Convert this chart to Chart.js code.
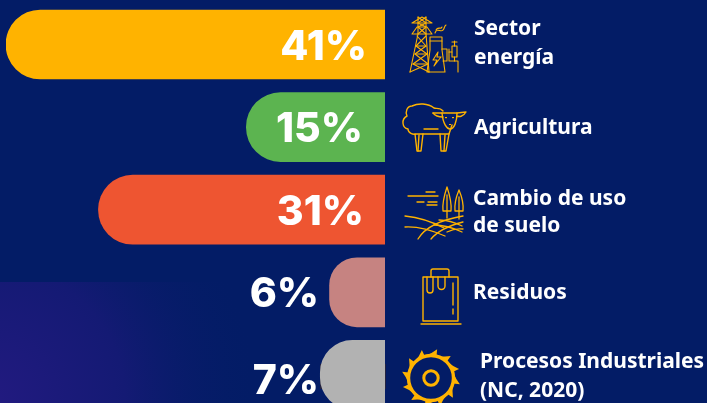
<!DOCTYPE html>
<html lang="es"><head><meta charset="utf-8">
<script src="https://cdn.jsdelivr.net/npm/chart.js@4"></script>
<style>html,body{margin:0;padding:0;background:#031c66;overflow:hidden}
#w{position:relative;width:707px;height:403px;overflow:hidden}
canvas{position:absolute;left:0;top:0}</style></head>
<body><div id="w"><canvas id="c" width="707" height="440"></canvas></div>
<script>
const categories = [["Sector","energía"],["Agricultura"],["Cambio de uso","de suelo"],["Residuos"],["Procesos Industriales","(NC, 2020)"]];
const values = [41,15,31,6,7];
const barColors = ["#FFB300","#5CB450","#EE5531","#C68381","#B2B2B2"];
const GOLD = "#FFB300";
const labelFont = '700 21px "Noto Sans"';
const pctFont = '800 41px Inter';
const labelX = [474,474,473,473,480];
const labelBase = [[35,64],[134],[205,232],[299],[368,397]];
const pctRight = [367,363,364,319,319];
const pctBase = [60,142,225,307,394];

function line(c,pts,close){c.beginPath();pts.forEach((p,i)=>i?c.lineTo(p[0],p[1]):c.moveTo(p[0],p[1]));if(close)c.closePath();c.stroke();}

function iconEnergy(c){
  c.lineWidth=1.1;
  line(c,[[412,23],[422,17],[432,23],[412,23]]);
  line(c,[[412,34],[417,27],[427,27],[432,34],[412,34]]);
  line(c,[[418,17],[418,34],[410,72]]);line(c,[[426,17],[426,34],[429,72]]);
  line(c,[[418,17],[426,23],[418,27],[426,34]]);line(c,[[426,17],[418,23],[426,27],[418,34]]);
  line(c,[[417,36],[426,46],[415,54],[428,64],[410,72]]);
  line(c,[[426,36],[416,46],[427,54],[413,64],[429,72]]);
  line(c,[[416,46],[426,46]]);line(c,[[415,54],[427,54]]);line(c,[[413,64],[428,64]]);
  line(c,[[430,37],[442,37],[442,50],[445,72],[427,72],[430,50],[430,37]]);
  line(c,[[430,41],[442,41]]);
  line(c,[[438,52],[433,60],[437,60],[434,66],[441,57],[437,57],[438,52]]);
  line(c,[[442,49],[447,49],[447,61],[443,61]]);line(c,[[449,49],[449,61],[458,61],[458,72]]);
  line(c,[[449,52],[452,52]]);
  c.strokeRect(452,46,5,11);line(c,[[454.5,41],[454.5,46]]);line(c,[[452,42],[457,42]]);line(c,[[454.5,57],[454.5,61]]);
  c.beginPath();c.moveTo(435,33);c.bezierCurveTo(437,27,441,33,443,30);c.bezierCurveTo(445,28,444,26,446,25);c.stroke();
  c.beginPath();c.moveTo(436,30);c.bezierCurveTo(438,26,441,30,442,27);c.stroke();
}
function iconSheep(c){
  c.lineWidth=1.4;
  c.beginPath();c.moveTo(443,111);c.bezierCurveTo(440,107,436,109,434,108);c.bezierCurveTo(428,103,418,103,412,106);
  c.bezierCurveTo(407,106,405,112,407,116);c.bezierCurveTo(401,119,402,128,408,129);c.bezierCurveTo(408,133,413,135,416,134);
  c.lineTo(449,134);c.lineTo(452,125);c.stroke();
  c.beginPath();c.moveTo(433,113);c.lineTo(442,113);c.bezierCurveTo(443,124,447,129,450,129);c.bezierCurveTo(454,129,457,122,457,113);c.lineTo(466,112);c.bezierCurveTo(463,117,459,117,457,116);c.stroke();
  c.beginPath();c.moveTo(433,113);c.bezierCurveTo(436,117,440,117,443,117);c.stroke();
  line(c,[[442,113],[457,113]]);
  line(c,[[424,129],[438,129]]);
  line(c,[[415,134],[417,151],[421,151],[423,134]]);line(c,[[418,151],[419,135]]);
  line(c,[[440,134],[441,151],[446,151],[449,134]]);line(c,[[444,151],[445,135]]);
  c.fillStyle=GOLD;c.fillRect(445,117,2,1.2);c.fillRect(452,117,2,1.2);c.fillRect(449,124,2,1);
}
function iconLand(c){
  c.lineWidth=1.3;
  line(c,[[408,196],[438,196]]);line(c,[[426,192],[435,192]]);line(c,[[417,202],[424,202]]);line(c,[[428,202],[437,202]]);line(c,[[427,205],[437,205]]);
  c.beginPath();c.moveTo(447,187);c.quadraticCurveTo(442,202,443,211);c.lineTo(451,211);c.quadraticCurveTo(452,202,447,187);c.moveTo(447,195);c.lineTo(447,218);c.stroke();
  c.beginPath();c.moveTo(459,190);c.quadraticCurveTo(454,202,455,211);c.lineTo(463,211);c.quadraticCurveTo(464,202,459,190);c.moveTo(459,197);c.lineTo(459,219);c.stroke();
  [[[405,216],[425,218],[444,228]],[[405,227],[422,226],[445,236]]].forEach(a=>{c.beginPath();c.moveTo(a[0][0],a[0][1]);c.quadraticCurveTo(a[1][0],a[1][1],a[2][0],a[2][1]);c.stroke();});
  [[[418,239],[428,222],[463,216]],[[431,239],[440,228],[463,222]],[[439,220],[450,220],[462,226]],[[434,225],[447,225],[462,232]],[[447,232],[455,228],[463,229]]].forEach(a=>{c.beginPath();c.moveTo(a[0][0],a[0][1]);c.quadraticCurveTo(a[1][0],a[1][1],a[2][0],a[2][1]);c.stroke();});
}
function iconBag(c){
  c.lineWidth=1.4;
  c.strokeRect(423,277,35,44);
  line(c,[[421,324],[461,324]]);
  c.beginPath();c.moveTo(431,277);c.lineTo(431,271);c.quadraticCurveTo(431,269,433,269);c.lineTo(447,269);c.quadraticCurveTo(449,269,449,271);c.lineTo(449,277);c.stroke();
  c.beginPath();c.moveTo(427,277);c.lineTo(427,290);c.arc(430,290,3,Math.PI,0,true);c.lineTo(433,277);c.stroke();
  c.beginPath();c.moveTo(438,277);c.lineTo(438,286);c.arc(441.5,286,3.5,Math.PI,0,true);c.lineTo(445,277);c.stroke();
  line(c,[[453,283],[453,305]]);line(c,[[453,309],[453,314]]);
}
function iconSaw(c){
  const cx=431,cy=378,d=Math.PI/180;
  c.lineWidth=3;c.beginPath();c.arc(cx,cy,7.2,0,7);c.stroke();
  c.lineWidth=3.4;c.beginPath();c.arc(cx,cy,22.5,0,7);c.stroke();
  c.fillStyle=GOLD;
  const P=(r,a)=>[cx+r*Math.cos(a),cy+r*Math.sin(a)];
  for(let i=0;i<12;i++){const a=(-78+i*30)*d;
    const b=P(23,a-26*d),t=P(29.5,a),e=P(23,a+2*d),m=P(25,a-9*d);
    c.beginPath();c.moveTo(b[0],b[1]);c.quadraticCurveTo(m[0],m[1],t[0],t[1]);c.lineTo(e[0],e[1]);c.closePath();c.fill();}
}
const icons=[iconEnergy,iconSheep,iconLand,iconBag,iconSaw];

const deco={id:'deco',
 beforeDraw(ch){const c=ch.ctx;c.save();
  c.fillStyle="#031c66";c.fillRect(0,0,707,440);
  const g=c.createRadialGradient(-10,400,0,-10,400,270);
  g.addColorStop(0,"#221a80");g.addColorStop(.5,"#141a74");g.addColorStop(1,"rgba(3,28,102,0)");
  c.fillStyle=g;c.fillRect(0,282,300,160);
  c.fillStyle="#232340";c.fillRect(320,364,3,25);c.fillRect(384,364,2,25);
  c.restore();},
 afterDraw(ch){const c=ch.ctx;c.save();
  c.strokeStyle=GOLD;c.lineCap='round';c.lineJoin='round';
  icons.forEach(f=>{c.save();f(c);c.restore();});
  c.fillStyle="#fff";c.textBaseline='alphabetic';
  c.font=labelFont;c.textAlign='left';
  categories.forEach((l,i)=>l.forEach((t,j)=>c.fillText(t,labelX[i],labelBase[i][j])));
  c.font=pctFont;c.textAlign='right';
  values.forEach((v,i)=>c.fillText(v+"%",pctRight[i],pctBase[i]));
  c.restore();}
};
new Chart(document.getElementById('c'),{
 type:'bar',
 data:{labels:categories.map(l=>l.join(' ')),datasets:[{data:values,backgroundColor:barColors,barThickness:69,borderSkipped:false,
   borderRadius:{topLeft:34.5,bottomLeft:34.5,topRight:0,bottomRight:0}}]},
 options:{indexAxis:'y',responsive:false,animation:false,
  layout:{padding:{left:6,right:322,top:3.2,bottom:23.8}},
  scales:{x:{display:false,reverse:true,min:0,max:41},y:{display:false}},
  plugins:{legend:{display:false},tooltip:{enabled:false}}},
 plugins:[deco]});
</script></body></html>
